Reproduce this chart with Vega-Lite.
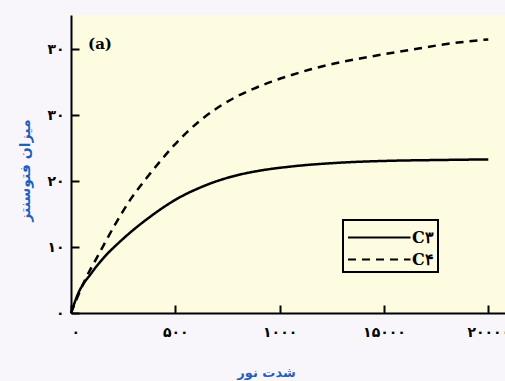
{
  "$schema": "https://vega.github.io/schema/vega-lite/v6.json",
  "width": 434,
  "height": 298,
  "autosize": {"type": "none"},
  "padding": {"left": 71, "top": 15, "right": 0, "bottom": 68},
  "background": "#f9f6fb",
  "config": {
    "view": {"fill": "#fdfce1", "stroke": null},
    "legend": {"strokeWidth": 2},
    "axis": {
      "grid": false,
      "domainColor": "#000000",
      "domainWidth": 2,
      "tickColor": "#000000",
      "tickWidth": 2,
      "tickSize": -8,
      "labelFont": "DejaVu Sans",
      "labelFontWeight": "bold",
      "labelFontSize": 14,
      "labelColor": "#000000",
      "titleFont": "DejaVu Sans",
      "titleFontWeight": "bold",
      "titleFontSize": 13,
      "titleColor": "#1f5fc0",
      "labelOverlap": false,
      "labelBound": false
    }
  },
  "datasets": {
    "curves": [
      {"light": 0, "rate": 0, "type": "C۳"},
      {"light": 35, "rate": 3.0, "type": "C۳"},
      {"light": 99, "rate": 6.1, "type": "C۳"},
      {"light": 163, "rate": 8.6, "type": "C۳"},
      {"light": 227, "rate": 10.6, "type": "C۳"},
      {"light": 291, "rate": 12.4, "type": "C۳"},
      {"light": 371, "rate": 14.4, "type": "C۳"},
      {"light": 451, "rate": 16.2, "type": "C۳"},
      {"light": 530, "rate": 17.7, "type": "C۳"},
      {"light": 610, "rate": 18.9, "type": "C۳"},
      {"light": 690, "rate": 19.9, "type": "C۳"},
      {"light": 810, "rate": 21.0, "type": "C۳"},
      {"light": 906, "rate": 21.6, "type": "C۳"},
      {"light": 1050, "rate": 22.2, "type": "C۳"},
      {"light": 1290, "rate": 22.8, "type": "C۳"},
      {"light": 1545, "rate": 23.1, "type": "C۳"},
      {"light": 1750, "rate": 23.2, "type": "C۳"},
      {"light": 2000, "rate": 23.3, "type": "C۳"},
      {"light": 0, "rate": 0, "type": "C۴"},
      {"light": 67, "rate": 5.0, "type": "C۴"},
      {"light": 131, "rate": 8.8, "type": "C۴"},
      {"light": 211, "rate": 13.4, "type": "C۴"},
      {"light": 291, "rate": 17.5, "type": "C۴"},
      {"light": 363, "rate": 20.5, "type": "C۴"},
      {"light": 427, "rate": 23.0, "type": "C۴"},
      {"light": 490, "rate": 25.3, "type": "C۴"},
      {"light": 555, "rate": 27.4, "type": "C۴"},
      {"light": 627, "rate": 29.4, "type": "C۴"},
      {"light": 706, "rate": 31.2, "type": "C۴"},
      {"light": 786, "rate": 32.7, "type": "C۴"},
      {"light": 874, "rate": 34.0, "type": "C۴"},
      {"light": 962, "rate": 35.1, "type": "C۴"},
      {"light": 1058, "rate": 36.1, "type": "C۴"},
      {"light": 1154, "rate": 37.0, "type": "C۴"},
      {"light": 1257, "rate": 37.8, "type": "C۴"},
      {"light": 1385, "rate": 38.6, "type": "C۴"},
      {"light": 1625, "rate": 39.9, "type": "C۴"},
      {"light": 1800, "rate": 40.8, "type": "C۴"},
      {"light": 2000, "rate": 41.5, "type": "C۴"}
    ],
    "panel": [
      {"light": 139, "rate": 40.8, "label": "(a)"}
    ]
  },
  "layer": [
    {
      "data": {"name": "curves"},
      "mark": {"type": "line", "interpolate": "monotone", "strokeWidth": 2.5, "color": "#000000"},
      "encoding": {
        "x": {
          "field": "light",
          "type": "quantitative",
          "scale": {"domain": [0, 2080], "nice": false},
          "axis": {
            "title": "شدت نور",
            "values": [0, 500, 1000, 1500, 2000],
            "labelExpr": "datum.value == 0 ? '۰' : datum.value == 500 ? '۵۰۰' : datum.value == 1000 ? '۱۰۰۰' : datum.value == 1500 ? '۱۵۰۰۰' : '۲۰۰۰۰'",
            "labelPadding": 20,
            "titleX": 195,
            "titleY": 59,
            "titleBaseline": "middle",
            "titleAnchor": null
          }
        },
        "y": {
          "field": "rate",
          "type": "quantitative",
          "scale": {"domain": [0, 45.2], "nice": false},
          "axis": {
            "title": "میزان فتوسنتز",
            "values": [0, 10, 20, 30, 40],
            "labelExpr": "datum.value == 0 ? '۰' : datum.value == 10 ? '۱۰' : datum.value == 20 ? '۲۰' : '۳۰'",
            "labelPadding": 15,
            "titleX": -46,
            "titleY": 155,
            "titleFontSize": 14,
            "titleAngle": -90,
            "titleBaseline": "middle"
          }
        },
        "strokeDash": {
          "field": "type",
          "type": "nominal",
          "scale": {"domain": ["C۳", "C۴"], "range": [[1, 0], [8, 6]]},
          "legend": {
            "title": null,
            "orient": "none",
            "legendX": 272,
            "legendY": 205,
            "strokeColor": "#000000",
            "padding": 4,
            "symbolType": "M-1,0H4",
            "symbolSize": 625,
            "symbolStrokeWidth": 2,
            "symbolStrokeColor": "#000000",
            "symbolOffset": 0,
            "labelFont": "DejaVu Serif",
            "labelFontWeight": "bold",
            "labelFontSize": 16,
            "labelColor": "#000000",
            "labelOffset": 38,
            "rowPadding": 0
          }
        }
      }
    },
    {
      "data": {"name": "panel"},
      "mark": {"type": "text", "font": "DejaVu Serif", "fontWeight": "bold", "fontSize": 15, "color": "#000000"},
      "encoding": {
        "x": {"field": "light", "type": "quantitative"},
        "y": {"field": "rate", "type": "quantitative"},
        "text": {"field": "label", "type": "nominal"}
      }
    }
  ]
}
